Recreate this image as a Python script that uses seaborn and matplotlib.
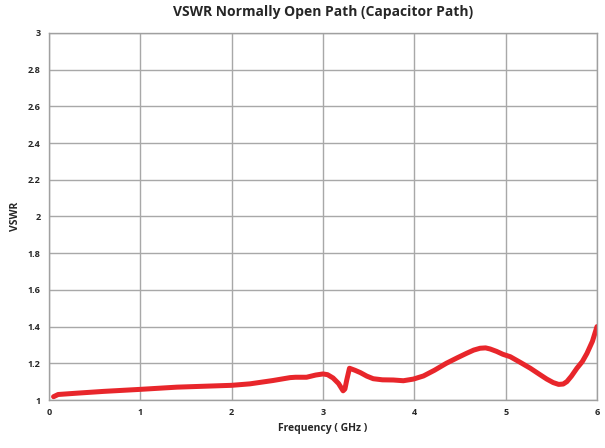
import matplotlib
matplotlib.use("Agg")
import matplotlib.pyplot as plt
import numpy as np
import pandas as pd
import seaborn as sns

# values
freq_ghz = [0.05, 0.1, 0.3, 0.6, 1.0, 1.4, 2.0, 2.2, 2.45, 2.64, 2.7, 2.82, 2.92,
            3.0, 3.05, 3.11, 3.17, 3.22, 3.24, 3.26, 3.29, 3.35, 3.41, 3.48, 3.55,
            3.65, 3.77, 3.88, 3.99, 4.1, 4.22, 4.35, 4.47, 4.57, 4.65, 4.72,
            4.78, 4.83, 4.9, 4.97, 5.05, 5.16, 5.27, 5.37, 5.45, 5.52, 5.58,
            5.63, 5.67, 5.72, 5.78, 5.84, 5.89, 5.95, 6.0]
vswr = [1.018, 1.03, 1.037, 1.047, 1.058, 1.07, 1.08, 1.088, 1.106, 1.122, 1.124,
        1.124, 1.136, 1.142, 1.138, 1.12, 1.09, 1.05, 1.06, 1.109, 1.173, 1.162,
        1.149, 1.13, 1.116, 1.11, 1.109, 1.105, 1.114, 1.131, 1.162, 1.2, 1.23,
        1.254, 1.272, 1.282, 1.284, 1.278, 1.265, 1.249, 1.236, 1.205, 1.173,
        1.14, 1.114, 1.095, 1.085, 1.087, 1.1, 1.13, 1.173, 1.21, 1.254, 1.32,
        1.40]

x_ticks = [0, 1, 2, 3, 4, 5, 6]
y_ticks = [1, 1.2, 1.4, 1.6, 1.8, 2, 2.2, 2.4, 2.6, 2.8, 3]
y_labels = ["1", "1.2", "1.4", "1.6", "1.8", "2", "2.2", "2.4", "2.6", "2.8", "3"]

df = pd.DataFrame({"freq": freq_ghz, "vswr": vswr})

sns.set_style("white")
plt.rcParams["font.family"] = ["Open Sans", "DejaVu Sans"]

fig = plt.figure(figsize=(6.05, 4.48), dpi=100)
ax = fig.add_axes([49 / 605, 1 - 400 / 448, 548 / 605, 367 / 448])

sns.lineplot(data=df, x="freq", y="vswr", ax=ax, color="#e8262b",
             linewidth=3.6, solid_capstyle="round", solid_joinstyle="round")

ax.set_xlim(0, 6)
ax.set_ylim(1, 3)
ax.set_xticks(x_ticks)
ax.set_yticks(y_ticks)
ax.set_yticklabels(y_labels)
ax.tick_params(axis="both", labelsize=6.5, length=3, color="#999999", pad=3)
for lbl in ax.get_xticklabels() + ax.get_yticklabels():
    lbl.set_fontweight("bold")
ax.grid(True, color="#a8a8a8", linewidth=1)
for s in ax.spines.values():
    s.set_color("#a0a0a0")
    s.set_linewidth(1)

ax.set_xlabel("Frequency ( GHz )", fontsize=7.5, fontweight="bold", labelpad=4)
ax.set_ylabel("VSWR", fontsize=7.5, fontweight="bold", labelpad=5)
ax.set_title("VSWR Normally Open Path (Capacitor Path)", fontsize=10,
             fontweight="bold", pad=12)

fig.savefig("out.png", dpi=100)
